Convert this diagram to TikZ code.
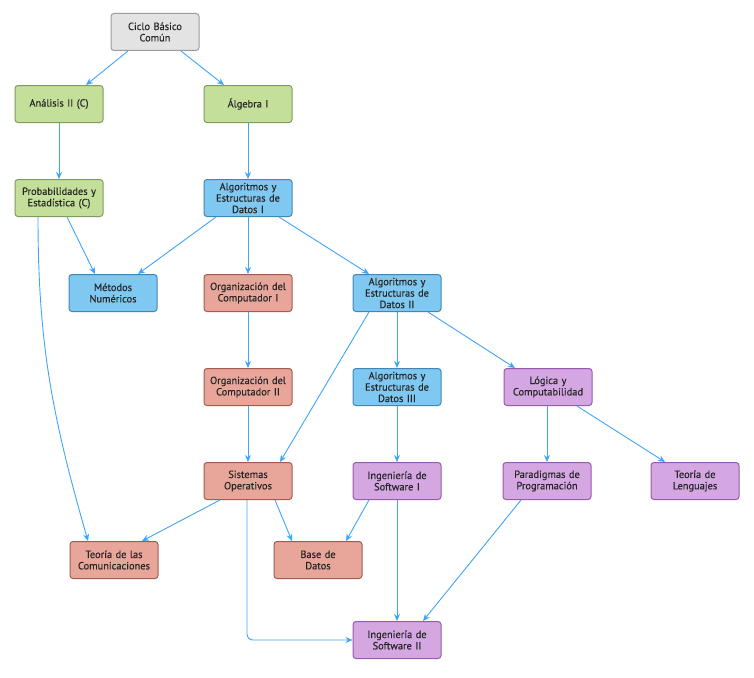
\documentclass[tikz,border=0pt]{standalone}
\usepackage{fontspec}
\setmainfont{PT Sans}
\newfontfamily\coursefont[FakeBold=0.35]{PT Sans}
\usetikzlibrary{arrows.meta}
\definecolor{edgeblue}{HTML}{3FA4FA}
\definecolor{txt}{HTML}{262626}
\definecolor{greyfill}{HTML}{E3E3E3}\definecolor{greyline}{HTML}{9C9C9C}
\definecolor{greenfill}{HTML}{C4DF9A}\definecolor{greenline}{HTML}{7E9C5E}
\definecolor{bluefill}{HTML}{7FC8F1}\definecolor{blueline}{HTML}{3F88B5}
\definecolor{redfill}{HTML}{E8A59A}\definecolor{redline}{HTML}{A35A50}
\definecolor{purplefill}{HTML}{D4A6E2}\definecolor{purpleline}{HTML}{985AAE}
\tikzset{
  course/.style={rectangle, rounded corners=3pt, line width=1pt,
    minimum width=86pt, minimum height=37pt, inner sep=0pt,
    text width=88pt, align=center, text=txt,
    font=\coursefont\fontsize{10.4}{11.4}\selectfont},
  basic/.style={course, fill=greyfill, draw=greyline},
  math/.style={course, fill=greenfill, draw=greenline},
  algo/.style={course, fill=bluefill, draw=blueline},
  sys/.style={course, fill=redfill, draw=redline},
  soft/.style={course, fill=purplefill, draw=purpleline},
  req/.style={draw=edgeblue, line width=0.9pt,
    -{Stealth[length=7pt,width=6pt]}},
}
\begin{document}
\begin{tikzpicture}[x=1pt,y=-1pt]
\useasboundingbox (0,0) rectangle (754,677);

% courses
\node[basic] (cbc)  at (155,32)  {Ciclo Básico\\Común};
\node[math]  (an2)  at (59,104)  {Análisis II (C)};
\node[math]  (alg)  at (248,104) {Álgebra I};
\node[math]  (pye)  at (59,198)  {Probabilidades y\\Estadística (C)};
\node[algo]  (aed1) at (248,198) {Algoritmos y\\Estructuras de\\Datos I};
\node[algo]  (metn) at (113,293) {Métodos\\Numéricos};
\node[sys]   (orga1) at (248,293) {Organización del\\Computador I};
\node[algo]  (aed2) at (397,293) {Algoritmos y\\Estructuras de\\Datos II};
\node[sys]   (orga2) at (248,387) {Organización del\\Computador II};
\node[algo]  (aed3) at (397,387) {Algoritmos y\\Estructuras de\\Datos III};
\node[soft]  (logi) at (548,387) {Lógica y\\Computabilidad};
\node[sys]   (so)   at (248,481) {Sistemas\\Operativos};
\node[soft]  (is1)  at (397,481) {Ingeniería de\\Software I};
\node[soft]  (plp)  at (547,481) {Paradigmas de\\Programación};
\node[soft]  (tleng) at (695,481) {Teoría de\\Lenguajes};
\node[sys]   (tdc)  at (114,560) {Teoría de las\\Comunicaciones};
\node[sys]   (bd)   at (318,560) {Base de\\Datos};
\node[soft]  (is2)  at (397,640) {Ingeniería de\\Software II};

% prerequisites
\draw[req] ([xshift=-27pt]cbc.south) -- ([xshift=27pt]an2.north);
\draw[req] ([xshift=26pt]cbc.south) -- ([xshift=-24pt]alg.north);
\draw[req] (an2) -- (pye);
\draw[req] (alg) -- (aed1);
\draw[req] ([xshift=8pt]pye.south) -- ([xshift=-18pt]metn.north);
\draw[req] ([xshift=-21pt]pye.south) to[out=-90,in=106] ([xshift=-26pt]tdc.north);
\draw[req] ([xshift=-32pt]aed1.south) -- ([xshift=25pt]metn.north);
\draw[req] (aed1) -- (orga1);
\draw[req] ([xshift=31pt]aed1.south) -- ([xshift=-28pt]aed2.north);
\draw[req] (orga1) -- (orga2);
\draw[req] (orga2) -- (so);
\draw[req] ([xshift=-28pt]aed2.south) -- ([xshift=32pt]so.north);
\draw[req] (aed2) -- (aed3);
\draw[req] ([xshift=31pt]aed2.south) -- ([xshift=-33pt]logi.north);
\draw[req] (aed3) -- (is1);
\draw[req] ([xshift=-1pt]logi.south) -- (plp.north);
\draw[req] ([xshift=29pt]logi.south) -- ([xshift=-30pt]tleng.north);
\draw[req] ([xshift=-28pt]so.south) -- ([xshift=28pt]tdc.north);
\draw[req] ([xshift=27pt]so.south) -- ([xshift=-26pt]bd.north);
\draw[req] ([xshift=-28pt]is1.south) -- ([xshift=28pt]bd.north);
\draw[req] (is1) -- (is2);
\draw[req] ([xshift=-26pt]plp.south) -- ([xshift=26pt]is2.north);
\draw[req, rounded corners=6pt] ([xshift=-1pt]so.south) |- (is2.west);
\end{tikzpicture}
\end{document}
